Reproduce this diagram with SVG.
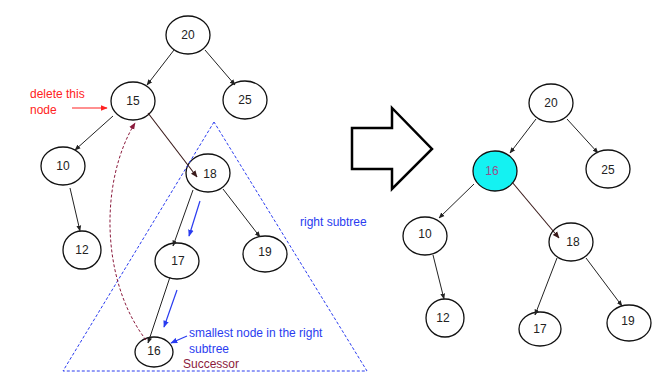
<svg xmlns="http://www.w3.org/2000/svg" width="672" height="389" viewBox="0 0 672 389">
<style>
.n{fill:#fff;stroke:#111;stroke-width:1.3}
.t{font-family:"Liberation Sans",Arial,sans-serif;font-size:12px;fill:#222;text-anchor:middle;dominant-baseline:central}
.e{stroke:#222;stroke-width:1;fill:none;marker-end:url(#ah)}
.eb{stroke:#3a1a1a;stroke-width:1.1;fill:none;marker-end:url(#ahb)}
.bl{stroke:#2a3cf0;stroke-width:1.2;fill:none;marker-end:url(#ahbl)}
.lb{font-family:"Liberation Sans",Arial,sans-serif;font-size:12px;fill:#2a3cf0}
.lr{font-family:"Liberation Sans",Arial,sans-serif;font-size:12px;fill:#f22}
</style>
<defs>
<marker id="ah" viewBox="0 0 10 10" refX="9" refY="5" markerWidth="6" markerHeight="6" orient="auto" markerUnits="userSpaceOnUse"><path d="M0,1 L10,5 L0,9 z" fill="#222"/></marker>
<marker id="ahb" viewBox="0 0 10 10" refX="9" refY="5" markerWidth="7" markerHeight="7" orient="auto" markerUnits="userSpaceOnUse"><path d="M0,1 L10,5 L0,9 z" fill="#3a1a1a"/></marker>
<marker id="ahbl" viewBox="0 0 10 10" refX="9" refY="5" markerWidth="7" markerHeight="7" orient="auto" markerUnits="userSpaceOnUse"><path d="M0,1 L10,5 L0,9 z" fill="#2a3cf0"/></marker>
<marker id="ahr" viewBox="0 0 10 10" refX="9" refY="5" markerWidth="7" markerHeight="7" orient="auto" markerUnits="userSpaceOnUse"><path d="M0,1 L10,5 L0,9 z" fill="#f22"/></marker>
<marker id="ahd" viewBox="0 0 10 10" refX="9" refY="5" markerWidth="7" markerHeight="7" orient="auto" markerUnits="userSpaceOnUse"><path d="M0,1 L10,5 L0,9 z" fill="#8b1a3c"/></marker>
</defs>

<g id="L20"><ellipse class="n" cx="188" cy="35" rx="22" ry="19"/><text class="t" x="188" y="35">20</text></g>
<g id="L15"><ellipse class="n" cx="133" cy="101" rx="22" ry="19"/><text class="t" x="133" y="101">15</text></g>
<g id="L25"><ellipse class="n" cx="245" cy="100" rx="22" ry="19"/><text class="t" x="245" y="100">25</text></g>
<g id="L10"><ellipse class="n" cx="63" cy="166" rx="22" ry="19"/><text class="t" x="63" y="166">10</text></g>
<g id="L18"><ellipse class="n" cx="208" cy="173" rx="22" ry="19"/><text class="t" x="210" y="174">18</text></g>
<g id="L12"><ellipse class="n" cx="82" cy="250" rx="19" ry="19"/><text class="t" x="82" y="250">12</text></g>
<g id="L17"><ellipse class="n" cx="177" cy="261" rx="22" ry="18"/><text class="t" x="178" y="261">17</text></g>
<g id="L19"><ellipse class="n" cx="265" cy="254" rx="22" ry="18"/><text class="t" x="265" y="252">19</text></g>
<g id="L16"><ellipse class="n" cx="154" cy="352" rx="19" ry="15"/><text class="t" x="154" y="351">16</text></g>

<g id="R20"><ellipse class="n" cx="551" cy="103" rx="22" ry="19"/><text class="t" x="551" y="103">20</text></g>
<g id="R16"><ellipse cx="495" cy="171" rx="22" ry="20" fill="#14f2f2" stroke="#111" stroke-width="1.3"/><text class="t" x="492" y="171" style="fill:#9b4f8a">16</text></g>
<g id="R25"><ellipse class="n" cx="608" cy="169" rx="22" ry="19"/><text class="t" x="608" y="170">25</text></g>
<g id="R10"><ellipse class="n" cx="425" cy="236" rx="22" ry="19"/><text class="t" x="425" y="234">10</text></g>
<g id="R18"><ellipse class="n" cx="571" cy="242" rx="22" ry="19"/><text class="t" x="573" y="242">18</text></g>
<g id="R12"><ellipse class="n" cx="445" cy="318" rx="19" ry="19"/><text class="t" x="443" y="318">12</text></g>
<g id="R17"><ellipse class="n" cx="540" cy="329" rx="21" ry="17"/><text class="t" x="540" y="329">17</text></g>
<g id="R19"><ellipse class="n" cx="629" cy="323" rx="22" ry="18"/><text class="t" x="628" y="321">19</text></g>

<g id="subtree"><polygon points="214,122 63,371 367,371" fill="none" stroke="#2a3cf0" stroke-width="1" stroke-dasharray="3,2"/></g>

<g id="connectors">
<line class="e" x1="174" y1="50" x2="147" y2="85"/>
<line class="e" x1="205" y1="50" x2="235" y2="85"/>
<line class="e" x1="113" y1="116" x2="75" y2="150"/>
<line class="eb" x1="148" y1="113" x2="197" y2="177"/>
<line class="e" x1="70" y1="188" x2="80" y2="231"/>
<line class="e" x1="193" y1="190" x2="173" y2="246"/>
<line class="e" x1="223" y1="189" x2="260" y2="237"/>
<line class="e" x1="170" y1="277" x2="148" y2="343"/>
<path d="M146,340 C100,280 100,180 135,123" fill="none" stroke="#8b1a3c" stroke-width="1" stroke-dasharray="3,2" marker-end="url(#ahd)"/>
<line class="bl" x1="200" y1="201" x2="189" y2="236"/>
<line class="bl" x1="177" y1="290" x2="164" y2="327"/>
<line class="bl" x1="187" y1="336" x2="171" y2="343"/>
<line x1="72" y1="108" x2="107" y2="108" stroke="#f22" stroke-width="1.2" marker-end="url(#ahr)"/>
<line class="e" x1="536" y1="119" x2="510" y2="153"/>
<line class="e" x1="567" y1="119" x2="598" y2="153"/>
<line class="e" x1="474" y1="184" x2="439" y2="218"/>
<line class="eb" x1="512" y1="182" x2="559" y2="238"/>
<line class="e" x1="433" y1="255" x2="444" y2="299"/>
<line class="e" x1="557" y1="258" x2="535" y2="315"/>
<line class="e" x1="586" y1="258" x2="622" y2="306"/>
</g>

<g id="labels">
<text class="lr" x="30" y="98">delete this</text>
<text class="lr" x="30" y="114">node</text>
<text class="lb" x="300" y="226">right subtree</text>
<text class="lb" x="189" y="337">smallest node in the right</text>
<text class="lb" x="189" y="353">subtree</text>
<text font-family="Liberation Sans,Arial,sans-serif" font-size="12" fill="#8b1a3c" x="183" y="368">Successor</text>
</g>

<g id="bigarrow"><polygon points="352,128 392,128 392,108 432,149 392,189 392,169 352,169" fill="#fff" stroke="#000" stroke-width="2.5" stroke-linejoin="miter"/></g>
</svg>
